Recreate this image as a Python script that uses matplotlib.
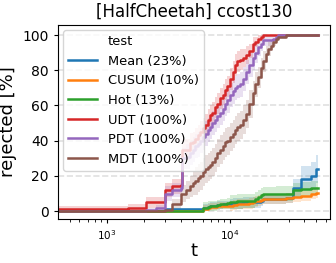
import matplotlib
matplotlib.use("Agg")
import matplotlib.pyplot as plt
from matplotlib.lines import Line2D
import numpy as np

# time steps (each value holds until the next step)
t = [400, 1500, 2100, 2500, 3000, 3400, 4000, 4100, 4400, 4700,
     5000, 5200, 5500, 5700, 6100, 6300, 6600, 6900, 7200, 7500,
     7900, 8300, 8700, 9100, 9500, 10000, 10500, 11000, 11500, 12000,
     12800, 13600, 14400, 15300, 16100, 17000, 17800, 18600, 19500, 20500,
     21500, 22500, 23500, 24700, 28700, 32500, 38000, 45000, 50000, 52000]

mean_v = [0, 0, 0, 0, 1, 1, 1, 1, 1, 1,
          1, 1, 1, 1, 2, 2, 2.5, 3, 3, 3,
          3.5, 3.5, 4, 4, 4, 4, 4.5, 4.5, 4.5, 4.5,
          5, 5, 5, 5, 5, 5, 6, 7, 7, 7,
          7, 7, 7, 7, 7.5, 13, 18.5, 20, 24, 24]
cusum_v = [0, 0, 0, 0, 0, 0, 0, 0, 0, 0,
           0, 0, 0, 0, 1.5, 1.5, 2, 2.5, 2.5, 2.5,
           3, 3, 3, 3, 3, 3, 3.5, 3.5, 4, 4,
           4, 4, 4.5, 5, 5.5, 6, 6.5, 7, 7, 7,
           7, 7, 7, 7, 7.5, 8, 8.5, 10, 10.5, 10.5]
hot_v = [0, 0, 0, 0, 0, 0, 0, 0, 0, 0,
         0, 0, 0, 0, 2, 2, 2.5, 3, 3, 3,
         3.5, 4, 4, 4, 4.5, 5, 5, 5, 5.5, 5.5,
         6, 6, 6, 6, 7, 8, 9, 9.5, 9.5, 9.5,
         9.5, 9.5, 10, 10, 10, 12, 12.5, 13.4, 13.4, 13.4]
udt_v = [1, 2, 5, 5, 12, 14, 15, 35, 35, 38.5,
         39, 41, 43, 45, 47, 49, 52, 54.5, 56, 59,
         61, 64, 66, 69, 71, 75, 79, 83, 85, 86,
         87, 88.5, 91, 95, 96, 98, 99, 100, 100, 100,
         100, 100, 100, 100, 100, 100, 100, 100, 100, 100]
pdt_v = [0, 0, 0.5, 2, 10, 12, 13, 30, 31, 33,
         35, 37, 38, 40, 42, 44, 46, 48, 50, 52,
         54, 56, 58, 61, 63, 66, 68, 70, 71, 72,
         75, 79, 83, 87, 90, 93, 95, 97, 97, 97,
         97, 98, 99, 100, 100, 100, 100, 100, 100, 100]
mdt_v = [0.3, 0.3, 0.3, 0.3, 0.5, 4, 10, 10, 12, 14,
         16, 17, 19, 20, 22, 24, 25, 26, 28, 30,
         33, 35, 37, 39, 40, 42, 44, 46, 48, 49,
         52, 55, 61, 67, 72, 76, 81, 85, 89, 92,
         94, 96, 98, 99, 100, 100, 100, 100, 100, 100]

# half widths of the shaded bands
mean_s = [0, 0, 0, 0, 1, 1, 1, 1, 1, 1,
          1, 1, 1, 1, 2, 2, 2, 2, 2, 2,
          2, 2, 2, 2, 2, 3, 3, 3, 3, 3,
          3, 3, 3, 3, 3, 3, 3, 3, 3, 3,
          3, 3, 3, 3, 3, 5, 7, 8, 8, 8]
cusum_s = [0, 0, 0, 0, 0, 0, 0, 0, 0, 0,
           0, 0, 0, 0, 2, 2, 2, 2, 2, 2,
           2, 2, 2, 2, 2, 3, 3, 3, 3, 3,
           3, 3, 3, 3, 3, 3, 3, 3, 3, 3,
           3, 3, 3, 3, 3, 3, 3, 3, 3, 3]
hot_s = [0, 0, 0, 0, 0, 0, 0, 0, 0, 0,
         0, 0, 0, 0, 3, 3, 3, 3, 3, 3,
         3, 3, 3, 3, 3, 4, 4, 4, 4, 4,
         4, 4, 4, 4, 4, 4, 4, 4, 4, 4,
         4, 4, 4, 4, 4, 4, 4, 4, 4, 4]
udt_s = [2, 2, 3, 3, 4, 4, 4, 6, 6, 6,
         6, 6, 6, 6, 6, 6, 6, 6, 6, 6,
         6, 6, 6, 6, 6, 6, 6, 6, 6, 6,
         5, 5, 4, 4, 3, 2, 1, 0, 0, 0,
         0, 0, 0, 0, 0, 0, 0, 0, 0, 0]
pdt_s = [0, 0, 1.5, 1.5, 4, 4, 4, 6, 7, 7,
         7, 7, 7, 7, 7, 7, 7, 7, 7, 7,
         7, 7, 7, 7, 7, 7, 7, 7, 7, 7,
         7, 7, 7, 7, 6, 5, 4, 3, 3, 3,
         3, 2, 1, 0, 0, 0, 0, 0, 0, 0]
mdt_s = [0.3, 0.3, 0.3, 0.3, 0.5, 3, 4, 5, 5, 6,
         7, 8, 8, 8, 8, 8, 8, 8, 8, 8,
         8, 8, 8, 8, 8, 8, 8, 8, 8, 8,
         8, 8, 8, 7, 7, 6, 6, 6, 5, 4,
         3, 2, 2, 1, 0, 0, 0, 0, 0, 0]

labels = ["Mean (23%)", "CUSUM (10%)", "Hot (13%)", "UDT (100%)", "PDT (100%)", "MDT (100%)"]
colors = ["tab:blue", "tab:orange", "tab:green", "tab:red", "tab:purple", "tab:brown"]
series = [mean_v, cusum_v, hot_v, udt_v, pdt_v, mdt_v]
spreads = [mean_s, cusum_s, hot_s, udt_s, pdt_s, mdt_s]

fig = plt.figure(figsize=(3.36, 2.63), dpi=100)
ax = fig.add_axes([0.1726, 0.167, 0.8094, 0.738])

handles = [Line2D([], [], color="none")]
for v, s, c in zip(series, spreads, colors):
    v = np.array(v, dtype=float)
    s = np.array(s, dtype=float)
    ax.fill_between(t, np.clip(v - s, 0, 100), np.clip(v + s, 0, 100),
                    step="post", color=c, alpha=0.2, lw=0)
    line, = ax.plot(t, v, drawstyle="steps-post", color=c, lw=1.8)
    handles.append(line)

ax.set_xscale("log")
ax.set_xlim(403, 64700)
ax.set_ylim(-4.5, 105.7)
ax.set_yticks([0, 20, 40, 60, 80, 100])
ax.yaxis.grid(True, linestyle="--", color="#e0e0e0", lw=1.2)
ax.set_axisbelow(True)
ax.tick_params(axis="y", labelsize=10, length=3)
ax.tick_params(axis="x", which="major", labelsize=7.5, length=3)
ax.tick_params(axis="x", which="minor", length=2)

ax.set_title("[HalfCheetah] ccost130", fontsize=12)
ax.set_ylabel("rejected [%]", fontsize=13)
ax.set_xlabel("t", fontsize=13, labelpad=0)

ax.legend(handles, ["test"] + labels, loc="upper left", fontsize=9.4,
          handlelength=2.2, borderaxespad=0.4)

fig.savefig("out.png", dpi=100)
